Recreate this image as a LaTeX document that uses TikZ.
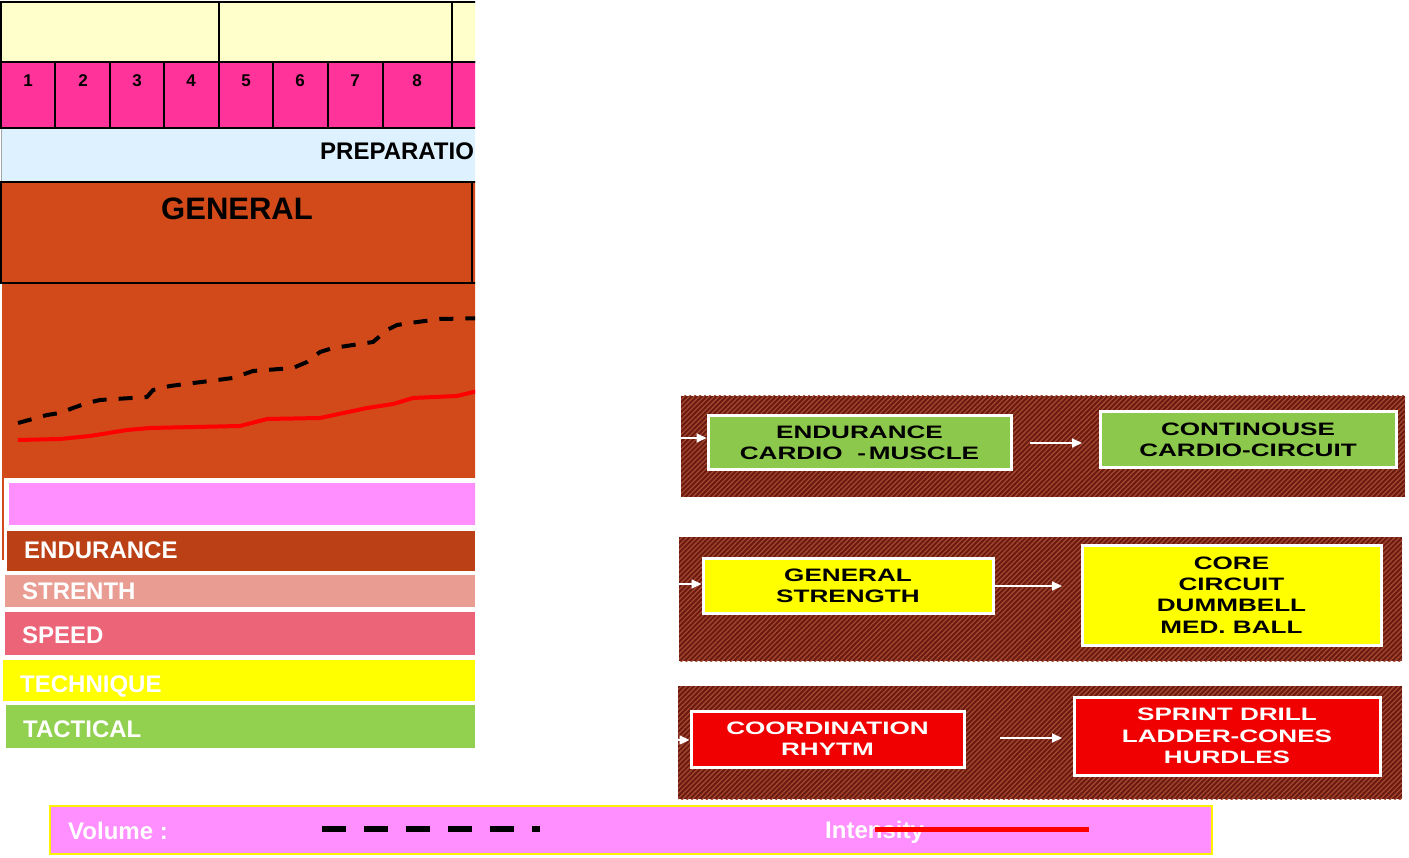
\documentclass[tikz,border=0pt]{standalone}
\usepackage{fontspec}
\setmainfont{Liberation Sans}
\newfontfamily\widefont{Liberation Sans}[FakeStretch=1.45]
\usetikzlibrary{patterns.meta,arrows.meta}

\definecolor{cream}{HTML}{FFFFCC}
\definecolor{weekpink}{HTML}{FF3399}
\definecolor{phaseblue}{HTML}{DDF1FF}
\definecolor{rust}{HTML}{D2491A}
\definecolor{endcol}{HTML}{BC4015}
\definecolor{strcol}{HTML}{E99C91}
\definecolor{spdcol}{HTML}{EC6478}
\definecolor{techcol}{HTML}{FFFF00}
\definecolor{tactcol}{HTML}{92D050}
\definecolor{lilac}{HTML}{FF8FFF}
\definecolor{panelbase}{HTML}{6A1A10}
\definecolor{panelline}{HTML}{A3472F}
\definecolor{boxgreen}{HTML}{8CC84B}
\definecolor{boxyellow}{HTML}{FFFF00}
\definecolor{boxred}{HTML}{F00000}

\tikzset{
  grid/.style={line width=2pt, draw=black},
  wk/.style={font=\bfseries\fontsize{17}{20}\selectfont, inner sep=0pt},
  bandlabel/.style={font=\bfseries\fontsize{24}{27}\selectfont, text=white, inner sep=0pt, anchor=base west},
  panel/.style={fill=panelbase},
  hatch/.style={pattern={Lines[angle=45,distance=3.5pt,line width=1.3pt]}, pattern color=panelline},
  drillbox/.style={draw=white, line width=3pt, inner sep=0pt, align=center,
    font=\widefont\bfseries\fontsize{18}{21.2}\selectfont},
  warrow/.style={draw=white, line width=2pt, -{Triangle[length=10pt,width=9pt]}},
  legendtext/.style={font=\bfseries\fontsize{24}{28}\selectfont, text=white, inner sep=0pt, anchor=base west},
}

\begin{document}
\begin{tikzpicture}[x=1pt,y=-1pt]
\useasboundingbox (0,0) rectangle (1409,858);

% ---------- season table (cut at the right edge) ----------
\begin{scope}
  \clip (0,0) rectangle (475,858);
  % months row
  \draw[grid, fill=cream] (1,2) rectangle (490,62);
  \draw[grid] (219,2) -- (219,62);
  \draw[grid] (452,2) -- (452,62);
  % weeks row
  \draw[grid, fill=weekpink] (1,62) rectangle (490,128);
  \foreach \xx in {55,110,164,219,273,328,383,452}
    \draw[grid] (\xx,62) -- (\xx,128);
  \node[wk] (w1) at (28,81) {1};
  \node[wk] (w2) at (83,81) {2};
  \node[wk] (w3) at (137,81) {3};
  \node[wk] (w4) at (191,81) {4};
  \node[wk] (w5) at (246,81) {5};
  \node[wk] (w6) at (300,81) {6};
  \node[wk] (w7) at (355,81) {7};
  \node[wk] (w8) at (417,81) {8};
  % phase row
  \fill[phaseblue] (1,129) rectangle (490,182);
  \draw[line width=1pt, draw=black!35] (1,129) -- (1,182);
  \node[font=\bfseries\fontsize{24}{27}\selectfont, inner sep=0pt, anchor=base west] (phase) at (320,160) {PREPARATIO};
  % sub-phase row
  \draw[grid, fill=rust] (1,182) rectangle (472,283);
  \draw[grid, fill=rust] (472,182) rectangle (495,283);
  \node[font=\bfseries\fontsize{31}{34}\selectfont, inner sep=0pt, anchor=base] (general) at (237,220) {GENERAL};
  % load chart
  \fill[rust] (2,284) rectangle (490,478);
  \fill[rust] (2,478) rectangle (4,560);
  \draw[line width=4pt, dash pattern=on 14pt off 12pt, line join=round]
    (18,423) -- (47,415) -- (60,413) -- (73,408) -- (87,403) -- (100,400) -- (147,397)
    -- (153,390) -- (170,386) -- (233,378) -- (253,371) -- (293,368) -- (307,362)
    -- (320,352) -- (333,348) -- (373,342) -- (387,330) -- (397,325) -- (410,323)
    -- (440,319) -- (490,318);
  \draw[red, line width=4pt, line join=round]
    (18,440) -- (60,439) -- (90,436) -- (127,430) -- (150,428) -- (240,426) -- (267,419)
    -- (320,418) -- (367,408) -- (393,404) -- (413,398) -- (457,396) -- (490,388);
  % volume band
  \draw[draw=white, line width=3pt, fill=lilac] (7,482) rectangle (490,526);
\end{scope}

% ---------- training components ----------
\fill[endcol] (7,531) rectangle (475,571);
\node[bandlabel] (endl) at (24,558) {ENDURANCE};
\fill[strcol] (5,575) rectangle (475,607);
\node[bandlabel] (strl) at (22,599) {STRENTH};
\fill[spdcol] (5,612) rectangle (475,655);
\node[bandlabel] (spdl) at (22,643) {SPEED};
\fill[techcol] (3,660) rectangle (475,701);
\node[bandlabel] (tecl) at (20,692) {TECHNIQUE};
\fill[tactcol] (6,705) rectangle (475,748);
\node[bandlabel] (tacl) at (23,737) {TACTICAL};

% ---------- drill panels ----------
\fill[panel] (681,396) rectangle (1405,497);
\fill[hatch] (681,396) rectangle (1405,497);
\fill[panel] (679,537) rectangle (1402,661);
\fill[hatch] (679,537) rectangle (1402,661);
\fill[panel] (678,686) rectangle (1402,799);
\fill[hatch] (678,686) rectangle (1402,799);

% endurance panel
\node[drillbox, fill=boxgreen, minimum width=303pt, minimum height=54pt] (endbox) at (859.5,443) {ENDURANCE\\CARDIO\ \ -\,MUSCLE};
\node[drillbox, fill=boxgreen, minimum width=296pt, minimum height=56pt] (cardbox) at (1248,440) {CONTINOUSE\\CARDIO-CIRCUIT};
\coordinate (endin) at (681,438);
\coordinate (endas) at (1030,443);
\coordinate (endae) at (1082,443);
\draw[warrow] (endin) -- (endin -| endbox.west);
\draw[warrow] (endas) -- (endae);

% strength panel
\node[drillbox, fill=boxyellow, minimum width=290pt, minimum height=55pt] (strbox) at (848,585.5) {GENERAL\\STRENGTH};
\node[drillbox, fill=boxyellow, minimum width=299pt, minimum height=100pt] (corebox) at (1231.5,595) {CORE\\CIRCUIT\\DUMMBELL\\MED.\ BALL};
\coordinate (strin) at (679,584);
\coordinate (strae) at (1062,586);
\draw[warrow] (strin) -- (strin -| strbox.west);
\draw[warrow] (strbox.east |- strae) -- (strae);

% speed panel
\node[drillbox, fill=boxred, text=white, minimum width=273pt, minimum height=56pt] (coobox) at (827.5,739) {COORDINATION\\RHYTM};
\node[drillbox, fill=boxred, text=white, minimum width=306pt, minimum height=78pt] (sprbox) at (1227,736) {SPRINT\ DRILL\\LADDER-CONES\\HURDLES};
\coordinate (spdin) at (678,740);
\coordinate (spdas) at (1000,738);
\coordinate (spdae) at (1062,738);
\draw[warrow] (spdin) -- (spdin -| coobox.west);
\draw[warrow] (spdas) -- (spdae);

% ---------- legend ----------
\draw[draw=yellow, line width=2pt, fill=lilac] (50,806) rectangle (1212,854);
\node[legendtext] (vol) at (68,839) {Volume :};
\node[legendtext] (inten) at (825,838) {Intensity};
\coordinate (vols) at (322,829);
\coordinate (vole) at (540,829);
\coordinate (ints) at (875,829);
\coordinate (inte) at (1089,829);
\draw[line width=6pt, dash pattern=on 24pt off 18pt] (vols) -- (vole);
\draw[red, line width=5pt] (ints) -- (inte);
\end{tikzpicture}
\end{document}
